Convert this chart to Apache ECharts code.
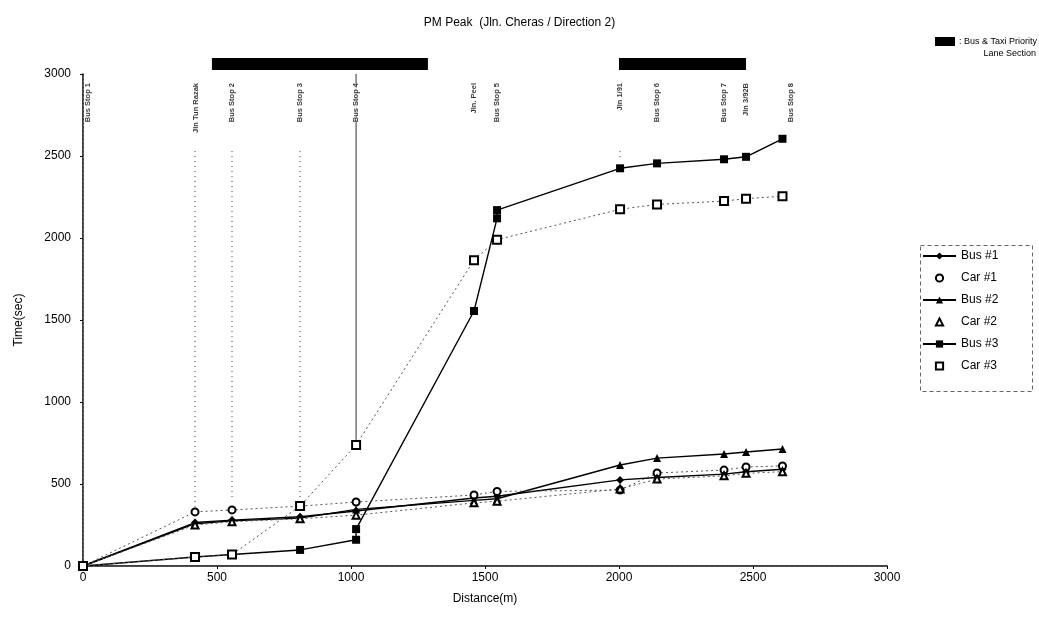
<!DOCTYPE html>
<html>
<head>
<meta charset="utf-8">
<script src="https://cdn.jsdelivr.net/npm/echarts@6/dist/echarts.min.js"></script>
<style>
  html, body { margin: 0; padding: 0; background: #fff; }
  #main { width: 1039px; height: 625px; }
</style>
</head>
<body>
<div id="main"></div>
<script>
// distance of each measuring point (m)
var stopDist = [0, 418, 556, 810, 1019, 1459, 1545, 2004, 2142, 2392, 2474, 2610];

// travel time (sec)
var bus1 = [0, 265, 280, 300, 335, 415, 425, 525, 540, 560, 575, 590];
var car1 = [0, 330, 342, 365, 390, 433, 455, 463, 567, 585, 604, 610];
var bus2 = [0, 258, 275, 292, 345, 400, 410, 616, 658, 683, 695, 713];
var car2 = [0, 250, 270, 288, 310, 385, 395, 470, 530, 550, 565, 575];
var car3 = [0, 55, 70, 366, 738, 1865, 1990, 2175, 2205, 2225, 2240, 2255];
// bus #3 has two readings at stop 4 and stop 5 (arrive / leave)
var bus3Dist = [0, 418, 556, 810, 1019, 1019, 1459, 1545, 1545, 2004, 2142, 2392, 2474, 2610];
var bus3 = [0, 55, 70, 98, 160, 225, 1555, 2120, 2170, 2425, 2455, 2480, 2495, 2605];

// stop names written along the top
var stopNames = ['Bus Stop 1', 'Jln Tun Razak', 'Bus Stop 2', 'Bus Stop 3', 'Bus Stop 4', 'Jln. Peel',
                 'Bus Stop 5', 'Jln 1/91', 'Bus Stop 6', 'Bus Stop 7', 'Jln 3/92B', 'Bus Stop 8'];
var stopLabelDist = [20, 420, 556, 810, 1020, 1460, 1545, 2005, 2142, 2392, 2475, 2640];

// vertical guide lines at some stops: [distance, from, to]
var guideLines = [[418, 2530, 340], [556, 2530, 400], [810, 2530, 370], [2004, 2530, 2480]];
var bs4Line = [[1019, 3000, 740]];

// bus & taxi priority lane sections (m)
var priorityLanes = [[481, 1287], [2000, 2474]];

function pairs(xs, ys) {
    return xs.map(function (x, i) { return [x, ys[i]]; });
}

var font = 'Liberation Sans, Arial, sans-serif';
var busLine = { color: '#000', width: 1.4 };
var carLine = { color: '#555', width: 1, type: [2, 3] };
var plainNum = function (v) { return String(v); };

function vLine(dashed) {
    return function (params, api) {
        var p0 = api.coord([api.value(0), api.value(1)]);
        var p1 = api.coord([api.value(0), api.value(2)]);
        return {
            type: 'line',
            shape: { x1: p0[0], y1: p0[1], x2: p1[0], y2: p1[1] },
            style: { stroke: '#333', lineWidth: 1, lineDash: dashed ? [1, 4] : null }
        };
    };
}

var option = {
    backgroundColor: '#fff',
    animation: false,
    title: {
        text: 'PM Peak  (Jln. Cheras / Direction 2)',
        left: 'center',
        top: 12,
        textStyle: { fontFamily: font, fontSize: 12, fontWeight: 'normal', color: '#000' }
    },
    grid: { left: 83, right: 152, top: 74, bottom: 59 },
    legend: {
        orient: 'vertical',
        left: 917,
        top: 245,
        itemWidth: 33,
        itemHeight: 9,
        itemGap: 10,
        textStyle: { fontFamily: font, fontSize: 12, color: '#000' },
        data: [
            { name: 'Bus #1' },
            { name: 'Car #1', lineStyle: { width: 0 } },
            { name: 'Bus #2' },
            { name: 'Car #2', lineStyle: { width: 0 } },
            { name: 'Bus #3' },
            { name: 'Car #3', lineStyle: { width: 0 } }
        ]
    },
    xAxis: [{
        type: 'value',
        min: 0, max: 3000, interval: 500,
        name: 'Distance(m)',
        nameLocation: 'middle',
        nameGap: 27,
        nameTextStyle: { fontFamily: font, fontSize: 12, color: '#000' },
        axisLine: { lineStyle: { color: '#000', width: 1.5 } },
        axisTick: { show: true, length: 3, lineStyle: { color: '#000' } },
        axisLabel: { fontFamily: font, fontSize: 12, color: '#000', margin: 6, formatter: plainNum },
        splitLine: { show: false }
    }, {
        type: 'value',
        position: 'top',
        min: 0, max: 3000,
        axisLine: { show: true, lineStyle: { color: '#555', width: 1, type: [3, 2] } },
        axisTick: { show: false },
        axisLabel: { show: false },
        splitLine: { show: false }
    }],
    yAxis: [{
        type: 'value',
        min: 0, max: 3000, interval: 500,
        name: 'Time(sec)',
        nameLocation: 'middle',
        nameGap: 58,
        nameTextStyle: { fontFamily: font, fontSize: 12, color: '#000' },
        axisLine: { show: true, lineStyle: { color: '#000', width: 1.5 } },
        axisTick: { show: true, length: 3, lineStyle: { color: '#000' } },
        axisLabel: { fontFamily: font, fontSize: 12, color: '#000', margin: 12, formatter: plainNum },
        splitLine: { show: false }
    }, {
        type: 'value',
        position: 'right',
        min: 0, max: 3000,
        axisLine: { show: true, lineStyle: { color: '#777', width: 1, type: [1, 3] } },
        axisTick: { show: false },
        axisLabel: { show: false },
        splitLine: { show: false }
    }],
    graphic: [
        { type: 'rect', left: 935, top: 37, shape: { width: 20, height: 9 }, style: { fill: '#000' } },
        { type: 'text', left: 959, top: 37, style: { text: ': Bus & Taxi Priority', font: '9px ' + font, fill: '#000' } },
        { type: 'text', right: 3, top: 49, style: { text: 'Lane Section', font: '9px ' + font, fill: '#000' } },
        { type: 'rect', left: 918, top: 243, shape: { width: 112, height: 146 },
          style: { fill: 'none', stroke: '#666', lineWidth: 1, lineDash: [4, 3] } }
    ],
    series: [
        {
            name: 'priority', type: 'custom', clip: false, silent: true,
            data: priorityLanes,
            encode: { x: [0, 1] },
            renderItem: function (params, api) {
                var p0 = api.coord([api.value(0), 3000]);
                var p1 = api.coord([api.value(1), 3000]);
                return {
                    type: 'rect',
                    shape: { x: p0[0], y: p0[1] - 16, width: p1[0] - p0[0], height: 12 },
                    style: { fill: '#000' }
                };
            }
        },
        {
            name: 'guides', type: 'custom', silent: true,
            data: guideLines, encode: { x: 0, y: [1, 2] },
            renderItem: vLine(true)
        },
        {
            name: 'bs4', type: 'custom', silent: true,
            data: bs4Line, encode: { x: 0, y: [1, 2] },
            renderItem: vLine(false)
        },
        {
            name: 'stops', type: 'scatter', silent: true,
            symbolSize: 0,
            data: stopLabelDist.map(function (d, i) { return { name: stopNames[i], value: [d, 2945] }; }),
            label: {
                show: true,
                position: [0, 0],
                rotate: 90,
                align: 'right',
                verticalAlign: 'middle',
                formatter: '{b}',
                fontFamily: font,
                fontSize: 7.5,
                fontWeight: 'bold',
                color: '#000',
                backgroundColor: '#fff'
            }
        },
        {
            name: 'Bus #1', type: 'line', data: pairs(stopDist, bus1),
            symbol: 'diamond', symbolSize: 8,
            itemStyle: { color: '#000' },
            lineStyle: busLine
        },
        {
            name: 'Bus #2', type: 'line', data: pairs(stopDist, bus2),
            symbol: 'triangle', symbolSize: 8,
            itemStyle: { color: '#000' },
            lineStyle: busLine
        },
        {
            name: 'Bus #3', type: 'line', data: pairs(bus3Dist, bus3),
            symbol: 'rect', symbolSize: 8,
            itemStyle: { color: '#000' },
            lineStyle: busLine
        },
        {
            name: 'Car #1', type: 'line', data: pairs(stopDist, car1),
            symbol: 'emptyCircle', symbolSize: 7,
            itemStyle: { color: '#000', borderWidth: 1.2 },
            lineStyle: carLine
        },
        {
            name: 'Car #2', type: 'line', data: pairs(stopDist, car2),
            symbol: 'emptyTriangle', symbolSize: 7,
            itemStyle: { color: '#000', borderWidth: 1.2 },
            lineStyle: carLine
        },
        {
            name: 'Car #3', type: 'line', data: pairs(stopDist, car3),
            symbol: 'emptyRect', symbolSize: 8,
            itemStyle: { color: '#000', borderWidth: 1.2 },
            lineStyle: carLine
        }
    ]
};

var myChart = echarts.init(document.getElementById('main'));
myChart.setOption(option);
</script>
</body>
</html>
